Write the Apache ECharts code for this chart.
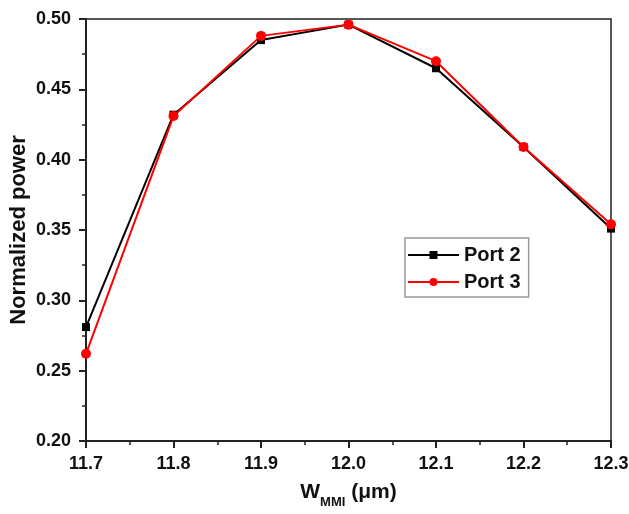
<!DOCTYPE html>
<html>
<head>
<meta charset="utf-8">
<script src="https://cdn.jsdelivr.net/npm/echarts@6/dist/echarts.min.js"></script>
<style>html,body{margin:0;padding:0;background:#fff}#c{width:629px;height:514px}</style>
</head>
<body>
<div id="c"></div>
<script>
const xValues = [11.7, 11.8, 11.9, 12.0, 12.1, 12.2, 12.3];
const port2 = [0.281, 0.432, 0.485, 0.496, 0.465, 0.409, 0.351];
const port3 = [0.262, 0.431, 0.488, 0.496, 0.470, 0.409, 0.354];
const seriesNames = ['Port 2', 'Port 3'];

const chart = echarts.init(document.getElementById('c'), null, {renderer: 'canvas'});
const font = 'Arial, "Liberation Sans", sans-serif';
chart.setOption({
  animation: false,
  backgroundColor: '#fff',
  grid: {left: 86, right: 18, top: 19, bottom: 73, show: true, borderColor: '#222', borderWidth: 1.5,
         containLabel: false, outerBoundsMode: 'none'},
  legend: {
    orient: 'vertical', left: 405, top: 238, padding: [7, 8, 5, 2],
    borderColor: '#999', borderWidth: 1.5, borderRadius: 0,
    itemWidth: 51, itemHeight: 10, itemGap: 7, itemTextGap: 6,
    textStyle: {fontFamily: font, fontWeight: 'bold', fontSize: 20, color: '#111'},
    data: seriesNames
  },
  xAxis: {
    type: 'value', min: 11.7, max: 12.3, interval: 0.1,
    axisLine: {show: true, lineStyle: {color: '#222', width: 2}},
    axisTick: {show: true, inside: false, length: 7, lineStyle: {color: '#222', width: 2}},
    minorTick: {show: true, splitNumber: 2, length: 4, lineStyle: {color: '#222', width: 1.5}},
    splitLine: {show: false},
    axisLabel: {fontFamily: font, fontWeight: 'bold', fontSize: 18, color: '#111', margin: 14,
      formatter: v => v.toFixed(1)},
    name: '{w|W}{s|MMI}{w| (μm)}', nameLocation: 'middle', nameGap: 38, nameMoveOverlap: false,
    nameTextStyle: {
      rich: {
        w: {fontFamily: font, fontWeight: 'bold', fontSize: 21, color: '#111', lineHeight: 24, verticalAlign: 'bottom'},
        s: {fontFamily: font, fontWeight: 'bold', fontSize: 13, color: '#111', lineHeight: 24, verticalAlign: 'bottom', padding: [0, 0, -6, 0]}
      }
    }
  },
  yAxis: {
    type: 'value', min: 0.20, max: 0.50, interval: 0.05,
    axisLine: {show: true, lineStyle: {color: '#222', width: 2}},
    axisTick: {show: true, inside: false, length: 7, lineStyle: {color: '#222', width: 2}},
    minorTick: {show: true, splitNumber: 2, length: 4, lineStyle: {color: '#222', width: 1.5}},
    splitLine: {show: false},
    axisLabel: {fontFamily: font, fontWeight: 'bold', fontSize: 18, color: '#111', margin: 15,
      formatter: v => v.toFixed(2)},
    name: 'Normalized power', nameLocation: 'middle', nameGap: 56, nameMoveOverlap: false,
    nameTextStyle: {fontFamily: font, fontWeight: 'bold', fontSize: 22, color: '#111'}
  },
  series: [
    {name: seriesNames[0], type: 'line', data: xValues.map((x, i) => [x, port2[i]]),
     symbol: 'rect', symbolSize: 8, color: '#000', lineStyle: {color: '#000', width: 2}, itemStyle: {color: '#000'}},
    {name: seriesNames[1], type: 'line', data: xValues.map((x, i) => [x, port3[i]]),
     symbol: 'circle', symbolSize: 10, color: '#f00', lineStyle: {color: '#f00', width: 2}, itemStyle: {color: '#f00'}}
  ]
});
</script>
</body>
</html>
